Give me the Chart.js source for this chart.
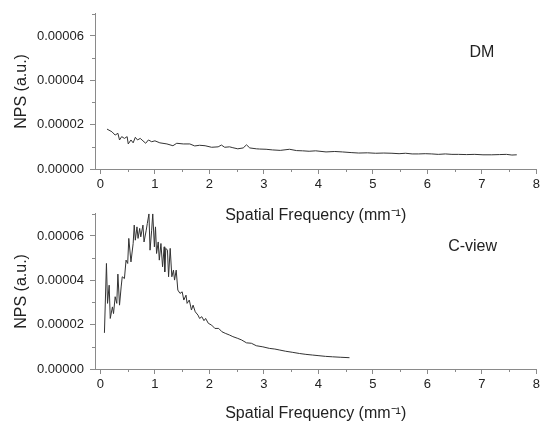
<!DOCTYPE html>
<html>
<head>
<meta charset="utf-8">
<script src="https://cdn.jsdelivr.net/npm/chart.js@4.4.1/dist/chart.umd.min.js"></script>
<style>
  html, body { margin: 0; padding: 0; background: #fff; }
  #wrap { position: relative; width: 543px; height: 423px; overflow: hidden; }
  #c1 { position: absolute; left: 0; top: 0; }
  #c2 { position: absolute; left: 0; top: 200px; }
</style>
</head>
<body>
<div id="wrap">
  <canvas id="c1" width="543" height="225" style="width:543px;height:225px"></canvas>
  <canvas id="c2" width="543" height="223" style="width:543px;height:223px"></canvas>
</div>
<script>
// ---- Data ----
const xTicks = [0, 1, 2, 3, 4, 5, 6, 7, 8];
const yTicks = [0, 0.00002, 0.00004, 0.00006];

const dmFreq = [0.12,0.21,0.27,0.32,0.35,0.39,0.44,0.49,0.51,0.56,0.60,0.64,0.68,0.73,0.78,0.83,0.88,0.94,1.00,1.09,1.22,1.33,1.40,1.52,1.64,1.73,1.82,1.92,2.04,2.16,2.22,2.28,2.37,2.43,2.52,2.62,2.68,2.74,2.86,2.92,3.04,3.16,3.30,3.47,3.60,3.71,3.83,3.95,4.14,4.30,4.44,4.60,4.74,4.90,5.05,5.20,5.35,5.48,5.60,5.72,5.84,5.96,6.08,6.20,6.33,6.45,6.57,6.72,6.87,7.02,7.18,7.32,7.45,7.55,7.64];
const dmNps  = [1.80e-5,1.68e-5,1.53e-5,1.61e-5,1.31e-5,1.46e-5,1.38e-5,1.46e-5,1.13e-5,1.31e-5,1.18e-5,1.43e-5,1.31e-5,1.38e-5,1.27e-5,1.16e-5,1.31e-5,1.23e-5,1.27e-5,1.18e-5,1.13e-5,1.05e-5,1.16e-5,1.13e-5,1.13e-5,1.04e-5,1.07e-5,1.05e-5,0.98e-5,1.00e-5,1.08e-5,0.98e-5,1.00e-5,0.96e-5,0.91e-5,0.95e-5,1.09e-5,0.95e-5,0.91e-5,0.90e-5,0.89e-5,0.86e-5,0.84e-5,0.89e-5,0.83e-5,0.82e-5,0.80e-5,0.82e-5,0.77e-5,0.79e-5,0.77e-5,0.74e-5,0.72e-5,0.73e-5,0.71e-5,0.72e-5,0.71e-5,0.69e-5,0.71e-5,0.68e-5,0.68e-5,0.69e-5,0.68e-5,0.66e-5,0.68e-5,0.66e-5,0.66e-5,0.65e-5,0.66e-5,0.64e-5,0.64e-5,0.65e-5,0.66e-5,0.63e-5,0.64e-5];

const cvFreq = [0.073,0.11,0.13,0.16,0.18,0.22,0.24,0.27,0.30,0.32,0.35,0.38,0.40,0.44,0.47,0.50,0.52,0.56,0.60,0.62,0.64,0.67,0.69,0.72,0.74,0.78,0.80,0.84,0.86,0.89,0.91,0.94,0.96,0.99,1.01,1.03,1.06,1.08,1.11,1.14,1.17,1.18,1.20,1.23,1.25,1.28,1.31,1.34,1.36,1.39,1.42,1.46,1.50,1.53,1.57,1.59,1.63,1.67,1.70,1.74,1.79,1.82,1.86,1.90,1.93,1.98,2.04,2.10,2.17,2.23,2.29,2.37,2.43,2.52,2.59,2.68,2.77,2.86,2.98,3.10,3.20,3.28,3.40,3.53,3.65,3.77,3.89,4.01,4.13,4.26,4.40,4.57];
const cvNps  = [1.63e-5,4.76e-5,2.96e-5,3.78e-5,2.28e-5,2.80e-5,2.50e-5,3.26e-5,2.96e-5,4.28e-5,2.88e-5,3.70e-5,4.16e-5,4.08e-5,4.91e-5,4.76e-5,5.89e-5,4.83e-5,5.66e-5,6.49e-5,5.81e-5,6.41e-5,5.89e-5,6.34e-5,5.96e-5,6.49e-5,5.73e-5,6.26e-5,6.56e-5,7.00e-5,5.36e-5,6.26e-5,7.00e-5,5.51e-5,6.41e-5,5.21e-5,5.73e-5,4.91e-5,5.66e-5,4.61e-5,5.51e-5,4.38e-5,5.44e-5,5.36e-5,4.16e-5,5.44e-5,4.16e-5,4.46e-5,4.01e-5,4.46e-5,3.56e-5,3.41e-5,3.48e-5,3.11e-5,3.33e-5,2.96e-5,3.11e-5,2.66e-5,2.88e-5,2.58e-5,2.43e-5,2.28e-5,2.36e-5,2.18e-5,2.28e-5,2.06e-5,1.98e-5,1.83e-5,1.83e-5,1.68e-5,1.61e-5,1.53e-5,1.46e-5,1.38e-5,1.31e-5,1.18e-5,1.16e-5,1.05e-5,1.00e-5,0.93e-5,0.90e-5,0.86e-5,0.80e-5,0.75e-5,0.70e-5,0.66e-5,0.63e-5,0.60e-5,0.57e-5,0.55e-5,0.53e-5,0.51e-5];

const xTitle = 'Spatial Frequency (mm\u207B\u00B9)';
const yTitle = 'NPS (a.u.)';

// ---- Styling ----
const FONT = '"Liberation Sans", Arial, sans-serif';
const TEXT = '#222';
const AXIS = '#8a8a8a';
const LINE = '#333';

function toPts(xs, ys) { return xs.map((x, i) => ({ x: x, y: ys[i] })); }

const minorTicks = {
  id: 'minorTicks',
  afterDraw(chart) {
    const ctx = chart.ctx, xs = chart.scales.x, ys = chart.scales.y;
    const area = chart.chartArea;
    ctx.save();
    ctx.strokeStyle = AXIS; ctx.lineWidth = 1;
    ctx.beginPath();
    for (let i = 0; i < xTicks.length - 1; i++) {
      const v = (xTicks[i] + xTicks[i + 1]) / 2;
      const px = Math.round(xs.getPixelForValue(v)) + 0.5;
      ctx.moveTo(px, area.bottom); ctx.lineTo(px, area.bottom + 3);
    }
    for (let i = 0; i < yTicks.length; i++) {
      const v = yTicks[i] + 0.00001;
      const py = Math.round(ys.getPixelForValue(v)) + 0.5;
      ctx.moveTo(area.left, py); ctx.lineTo(area.left - 3, py);
    }
    ctx.stroke();
    ctx.restore();
  }
};

const labelPlugin = {
  id: 'panelLabel',
  afterDraw(chart, args, opts) {
    const ctx = chart.ctx;
    ctx.save();
    ctx.font = '16px ' + FONT;
    ctx.fillStyle = TEXT;
    ctx.textAlign = 'center';
    ctx.textBaseline = 'middle';
    ctx.fillText(opts.text, chart.scales.x.getPixelForValue(opts.x), chart.scales.y.getPixelForValue(opts.y));
    ctx.restore();
  }
};

function makeChart(id, pts, label, lx, ly, canvasH) {
  return new Chart(document.getElementById(id), {
    type: 'line',
    data: { datasets: [{ data: pts, borderColor: LINE, borderWidth: 1, pointRadius: 0, tension: 0, fill: false }] },
    options: {
      responsive: false, animation: false, events: [],
      layout: { padding: { top: 13, right: 4, left: 0, bottom: 0 } },
      plugins: { legend: { display: false }, tooltip: { enabled: false },
        panelLabel: { text: label, x: lx, y: ly } },
      scales: {
        x: {
          type: 'linear', min: -0.1, max: 8,
          afterFit(s) { s.height = canvasH - 13 - 156; },
          ticks: { stepSize: 1, includeBounds: false, autoSkip: false, maxRotation: 0,
            color: TEXT, padding: 3, font: { family: FONT, size: 13 } },
          grid: { drawOnChartArea: false, drawTicks: true, tickLength: 5, color: AXIS },
          border: { color: AXIS, width: 1 },
          title: { display: true, text: xTitle, color: TEXT, padding: 0, font: { family: FONT, size: 16 } }
        },
        y: {
          type: 'linear', min: 0, max: 0.00007,
          afterFit(s) { s.width = 95; },
          ticks: { stepSize: 0.00002, includeBounds: false, autoSkip: false, color: TEXT, padding: 6,
            font: { family: FONT, size: 13 }, callback: v => Number(v).toFixed(5) },
          grid: { drawOnChartArea: false, drawTicks: true, tickLength: 5, color: AXIS },
          border: { color: AXIS, width: 1 },
          title: { display: true, text: yTitle, color: TEXT, padding: { top: 12, bottom: 0 }, font: { family: FONT, size: 16 } }
        }
      }
    },
    plugins: [minorTicks, labelPlugin]
  });
}

makeChart('c1', toPts(dmFreq, dmNps), 'DM', 7.0, 0.0000526, 225);
makeChart('c2', toPts(cvFreq, cvNps), 'C-view', 6.83, 0.0000552, 223);
</script>
</body>
</html>
